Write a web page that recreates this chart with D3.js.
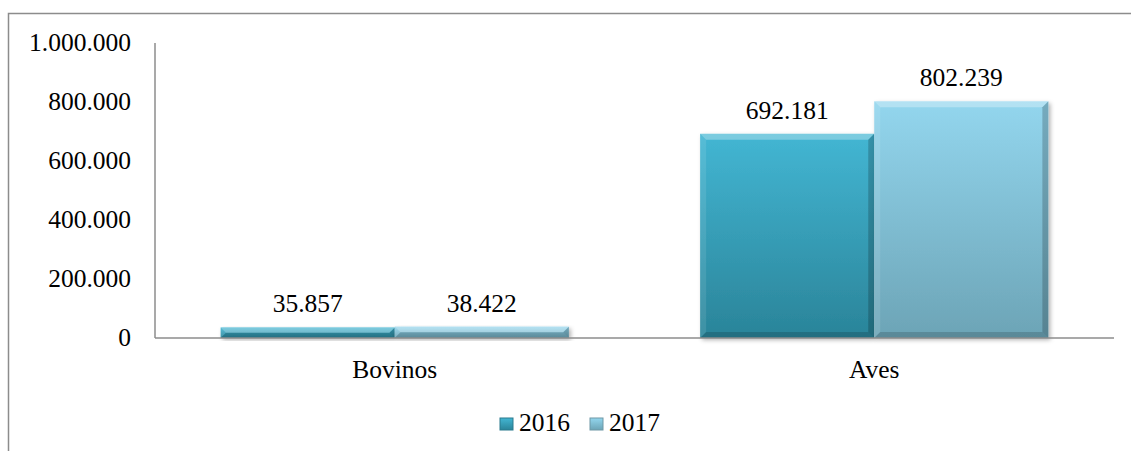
<!DOCTYPE html>
<html>
<head>
<meta charset="utf-8">
<script src="https://cdn.jsdelivr.net/npm/d3@7"></script>
<style>
  body { margin: 0; background: #fff; }
</style>
</head>
<body>
<div id="root"></div>
<script>
// data
var categories = ["Bovinos", "Aves"]
var years = ["2016", "2017"]
var values2016 = [35857, 692181]
var values2017 = [38422, 802239]
var yTicks = [0, 200000, 400000, 600000, 800000, 1000000]

var width = 1131, height = 451
var margin = ({ top: 43, right: 17, bottom: 113, left: 155 })
var serif = "'Liberation Serif', 'Times New Roman', 'DejaVu Serif', serif"

var fmt = function(v){ return d3.format(",")(v).replace(/,/g, ".") }

var svg = d3.select("#root").append("svg")
  .attr("width", width).attr("height", height)
  .style("font-family", serif)

// outer frame (runs off the right and bottom edges)
svg.append("path")
  .attr("d", "M8.5," + (height + 5) + "V13.5H" + (width + 5))
  .attr("fill", "none").attr("stroke", "#8c8c8c").attr("stroke-width", 1.5)

var defs = svg.append("defs")
var grads = [
  { id: "g2016", top: "#43b6d3", bot: "#2a8499" },
  { id: "g2017", top: "#93d6ee", bot: "#6ca4b6" }
]
grads.forEach(function(g){
  var lg = defs.append("linearGradient").attr("id", g.id)
    .attr("x1", 0).attr("y1", 0).attr("x2", 0).attr("y2", 1)
  lg.append("stop").attr("offset", "0%").attr("stop-color", g.top)
  lg.append("stop").attr("offset", "100%").attr("stop-color", g.bot)
})
var f = defs.append("filter").attr("id", "shadow")
  .attr("x", "-10%").attr("y", "-10%").attr("width", "130%").attr("height", "130%")
f.append("feDropShadow").attr("dx", 2).attr("dy", 2).attr("stdDeviation", 2)
  .attr("flood-color", "#000").attr("flood-opacity", 0.3)

var x0 = d3.scaleBand().domain(categories)
  .range([margin.left, width - margin.right])
var x1 = d3.scaleBand().domain(years)
  .range([0, x0.bandwidth()]).paddingOuter(0.377)
var y = d3.scaleLinear().domain([0, 1000000])
  .range([height - margin.bottom, margin.top])

// y axis labels + line
svg.append("line")
  .attr("x1", margin.left).attr("x2", margin.left)
  .attr("y1", y(1000000)).attr("y2", y(0))
  .attr("stroke", "#8c8c8c").attr("stroke-width", 1.5)
svg.selectAll(".ytick").data(yTicks).enter().append("text")
  .attr("class", "ytick")
  .attr("x", 131).attr("y", function(d){ return y(d) + 8 })
  .attr("text-anchor", "end").attr("font-size", 25.5).attr("font-family", serif)
  .text(function(d){ return fmt(d) })

var rows = []
categories.forEach(function(c, i){
  rows.push({ cat: c, year: "2016", v: values2016[i] })
  rows.push({ cat: c, year: "2017", v: values2017[i] })
})

// bars with a bevel look
var bars = svg.selectAll(".bar").data(rows).enter().append("g").attr("class", "bar")
bars.each(function(d){
  var g = d3.select(this)
  var bx = x0(d.cat) + x1(d.year), bw = x1.bandwidth()
  var by = y(d.v), bh = y(0) - y(d.v)
  g.append("rect").attr("x", bx).attr("y", by).attr("width", bw).attr("height", bh)
    .attr("fill", "url(#g" + d.year + ")").attr("filter", "url(#shadow)")
  var e = Math.min(6, bh / 2)
  var x2 = bx + bw, y2 = by + bh
  var faces = [
    { p: [[bx, by], [x2, by], [x2 - e, by + e], [bx + e, by + e]], c: "#fff", o: 0.3 },
    { p: [[bx, by], [bx + e, by + e], [bx + e, y2 - e], [bx, y2]], c: "#fff", o: 0.1 },
    { p: [[x2, by], [x2, y2], [x2 - e, y2 - e], [x2 - e, by + e]], c: "#000", o: 0.2 },
    { p: [[bx, y2], [x2, y2], [x2 - e, y2 - e], [bx + e, y2 - e]], c: "#000", o: 0.16 }
  ]
  faces.forEach(function(fc){
    g.append("polygon").attr("points", fc.p.map(function(q){ return q.join(",") }).join(" "))
      .attr("fill", fc.c).attr("fill-opacity", fc.o)
  })
  g.append("text")
    .attr("x", bx + bw / 2).attr("y", by - 15)
    .attr("text-anchor", "middle").attr("font-size", 25.5).attr("font-family", serif)
    .text(fmt(d.v))
})

// x axis baseline + labels
svg.append("line")
  .attr("x1", margin.left).attr("x2", width - margin.right)
  .attr("y1", y(0)).attr("y2", y(0))
  .attr("stroke", "#8c8c8c").attr("stroke-width", 1.5)
svg.selectAll(".xlab").data(categories).enter().append("text")
  .attr("x", function(d){ return x0(d) + x0.bandwidth() / 2 })
  .attr("y", 378).attr("text-anchor", "middle").attr("font-size", 25.5).attr("font-family", serif)
  .text(function(d){ return d })

// legend
var legX = [500, 590]
var leg = svg.selectAll(".leg").data(years).enter().append("g")
  .attr("transform", function(d, i){ return "translate(" + legX[i] + ",418)" })
leg.append("rect").attr("width", 13).attr("height", 12)
  .attr("fill", function(d){ return "url(#g" + d + ")" })
  .attr("stroke", function(d){ return d === "2016" ? "#2a7a8e" : "#6f98a6" }).attr("stroke-width", 1)
leg.append("text").attr("x", 19).attr("y", 13).attr("font-size", 25.5).attr("font-family", serif)
  .text(function(d){ return d })
</script>
</body>
</html>
